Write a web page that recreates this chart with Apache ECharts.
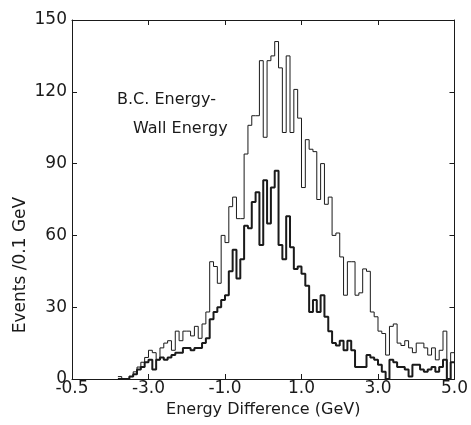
<!DOCTYPE html>
<html>
<head>
<meta charset="utf-8">
<script src="https://cdn.jsdelivr.net/npm/echarts@6/dist/echarts.min.js"></script>
<style>
html,body{margin:0;padding:0;background:#fff;}
#chart{width:471px;height:425px;}
</style>
</head>
<body>
<div id="chart"></div>
<script>
// Bin layout (GeV): first bin starts at BIN_START, each bin is BIN_WIDTH wide
const BIN_START = -3.8;
const BIN_WIDTH = 0.1;

// Total events per 0.1 GeV (thin line), bins from -3.8 to 5.0 GeV
const totalEvents = [
  1, 0, 0, 1, 3, 5, 7, 9, 12, 11,
  8, 13, 15, 16, 12, 20, 16, 20, 20, 18,
  22, 17, 23, 28, 49, 47, 40, 60, 57, 72,
  76, 67, 67, 94, 106, 110, 110, 133, 101, 133,
  135, 141, 130, 103, 135, 103, 121, 109, 80, 100,
  96, 95, 75, 90, 73, 76, 60, 61, 51, 35,
  49, 49, 35, 36, 46, 45, 28, 26, 20, 19,
  10, 22, 23, 15, 14, 16, 13, 11, 15, 15,
  13, 10, 13, 8, 12, 20, 0, 11
];

// Selected events per 0.1 GeV (thick line), same bins
const selectedEvents = [
  0, 0, 0, 1, 2, 4, 5, 7, 8, 4,
  8, 9, 8, 9, 10, 11, 11, 13, 13, 12,
  13, 13, 15, 17, 25, 28, 30, 33, 35, 45,
  54, 42, 50, 64, 63, 74, 78, 56, 83, 65,
  80, 87, 56, 50, 68, 55, 46, 47, 44, 39,
  28, 33, 28, 35, 26, 20, 15, 14, 16, 12,
  16, 12, 5, 5, 5, 10, 9, 8, 6, 3,
  0, 8, 7, 5, 5, 4, 1, 6, 6, 4,
  3, 4, 5, 3, 5, 8, 0, 7
];

// Axis tick labels as printed on the original figure
const xTickValues = [-5, -3, -1, 1, 3, 5];
const xTickLabels = ['-0.5', '-3.0', '-1.0', '1.0', '3.0', '5.0'];
const yTickLabels = ['0', '30', '60', '90', '120', '150'];

const titleLines = ['B.C. Energy-', 'Wall Energy'];
const xTitle = 'Energy Difference (GeV)';
const yTitle = 'Events /0.1 GeV';

function stepData(values) {
  const pts = [];
  for (let i = 0; i < values.length; i++) {
    const x = +(BIN_START + i * BIN_WIDTH).toFixed(2);
    pts.push([x, values[i]]);
  }
  const xEnd = +(BIN_START + values.length * BIN_WIDTH).toFixed(2);
  pts.push([xEnd, values[values.length - 1]]);
  return pts;
}

const FONT = 'DejaVu Sans';
const INK = '#1a1a1a';

const chart = echarts.init(document.getElementById('chart'), null, {renderer: 'canvas'});

function axisCommon() {
  return {
    axisLine: {show: true, onZero: false, lineStyle: {color: INK, width: 1}},
    axisTick: {show: true, inside: true, length: 5, lineStyle: {color: INK, width: 1}},
    splitLine: {show: false}
  };
}

chart.setOption({
  animation: false,
  backgroundColor: '#ffffff',
  grid: {left: 72, right: 16, top: 20, bottom: 46},
  xAxis: [
    Object.assign({
      type: 'value', min: -5, max: 5, interval: 2, position: 'bottom',
      name: xTitle, nameLocation: 'middle', nameGap: 20,
      nameTextStyle: {fontFamily: FONT, fontSize: 16, color: INK},
      axisLabel: {
        show: true, margin: 1, fontFamily: FONT, fontSize: 17, color: INK,
        formatter: function (v) {
          const k = xTickValues.indexOf(Math.round(v));
          return k >= 0 ? xTickLabels[k] : '';
        }
      }
    }, axisCommon()),
    Object.assign({
      type: 'value', min: -5, max: 5, interval: 2, position: 'top',
      axisLabel: {show: false}
    }, axisCommon())
  ],
  yAxis: [
    Object.assign({
      type: 'value', min: 0, max: 150, interval: 30, position: 'left',
      axisLabel: {
        show: true, margin: 5, fontFamily: FONT, fontSize: 17, color: INK,
        formatter: function (v) { return yTickLabels[Math.round(v / 30)]; }
      }
    }, axisCommon()),
    Object.assign({
      type: 'value', min: 0, max: 150, interval: 30, position: 'right',
      axisLabel: {show: false}
    }, axisCommon())
  ],
  graphic: [
    {type: 'text', left: 117, top: 92, style: {text: titleLines[0], font: '16px "DejaVu Sans"', fill: INK}},
    {type: 'text', left: 133, top: 121, style: {text: titleLines[1], font: '16px "DejaVu Sans"', fill: INK}},
    {type: 'text', x: 21, y: 265, rotation: Math.PI / 2,
      style: {text: yTitle, font: '17px "DejaVu Sans"', fill: INK, align: 'center', verticalAlign: 'middle'}}
  ],
  series: [
    {
      type: 'line', xAxisIndex: 0, yAxisIndex: 0, step: 'end', showSymbol: false,
      data: stepData(totalEvents),
      lineStyle: {color: INK, width: 1}
    },
    {
      type: 'line', xAxisIndex: 0, yAxisIndex: 0, step: 'end', showSymbol: false,
      data: stepData(selectedEvents),
      lineStyle: {color: INK, width: 2}
    }
  ]
});
</script>
</body>
</html>
